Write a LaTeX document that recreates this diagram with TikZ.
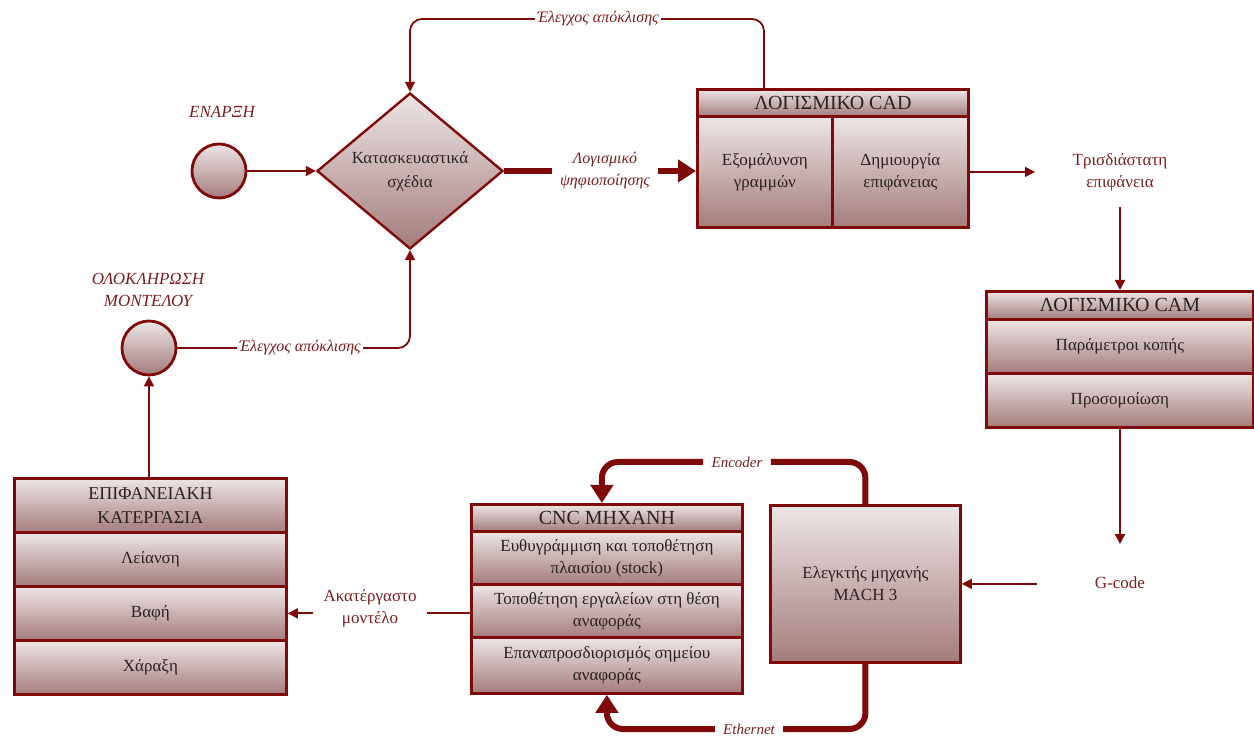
\documentclass[tikz,border=0pt]{standalone}
\usepackage{fontspec}
\setmainfont{Liberation Serif}
\usetikzlibrary{shapes.geometric,arrows.meta}
\definecolor{dred}{HTML}{7F0A0A}
\definecolor{gtop}{HTML}{EDE6E6}
\definecolor{gbot}{HTML}{A47C7C}
\definecolor{ltxt}{HTML}{7A1E1E}
\definecolor{btxt}{HTML}{2A2222}
\begin{document}
\begin{tikzpicture}[x=0.5pt,y=-0.5pt,
  cell/.style={draw=dred, line width=1.4pt, top color=gtop, bottom color=gbot,
    anchor=north west, inner sep=0pt, align=center, text=btxt,
    font=\fontsize{8.5}{11}\selectfont},
  hdr/.style={font=\fontsize{10}{12}\selectfont},
  circ/.style={circle, draw=dred, line width=1.4pt, top color=gtop, bottom color=gbot,
    minimum size=27pt, inner sep=0pt},
  ilbl/.style={text=ltxt, font=\fontsize{8}{11}\itshape, align=center, inner sep=2pt},
  tlbl/.style={text=ltxt, font=\fontsize{8.5}{11}\selectfont, align=center, inner sep=2pt},
  thinl/.style={draw=dred, line width=0.9pt},
  thina/.style={thinl, -{Triangle[length=5pt,width=5pt]}},
  thickl/.style={draw=dred, line width=3pt},
  thicka/.style={thickl, -{Triangle[length=9pt,width=11pt]}}
]
\useasboundingbox (0,0) rectangle (1254,737);

% start / end circles
\node[circ] (start) at (219,171) {};
\node[ilbl, font=\fontsize{8.5}{11}\itshape] (startl) at (222,112) {ΕΝΑΡΞΗ};
\node[circ] (endc) at (149,348) {};
\node[ilbl, font=\fontsize{8.5}{11}\itshape] (endl) at (148,290) {ΟΛΟΚΛΗΡΩΣΗ\\ΜΟΝΤΕΛΟΥ};

% diamond
\node[diamond, draw=dred, line width=1.2pt, top color=gtop, bottom color=gbot,
  minimum width=93pt, minimum height=78pt, inner sep=0pt] (dia) at (410,171) {};
\node[text=btxt, font=\fontsize{8.5}{12}\selectfont, align=center] (diat) at (dia.center) {Κατασκευαστικά\\σχέδια};

% CAD
\node[cell, hdr, minimum width=135.5pt, minimum height=13.5pt] (cadh) at (696,88) {ΛΟΓΙΣΜΙΚΟ CAD};
\node[cell, minimum width=67.5pt, minimum height=55.5pt] (cad1) at (696,115) {Εξομάλυνση\\γραμμών};
\node[cell, minimum width=68pt, minimum height=55.5pt] (cad2) at (831,115) {Δημιουργία\\επιφάνειας};

% CAM
\node[cell, hdr, minimum width=133.5pt, minimum height=14pt] (camh) at (985,290) {ΛΟΓΙΣΜΙΚΟ CAM};
\node[cell, minimum width=133.5pt, minimum height=27pt] (cam1) at (985,318) {Παράμετροι κοπής};
\node[cell, minimum width=133.5pt, minimum height=27pt] (cam2) at (985,372) {Προσομοίωση};

% CNC
\node[cell, hdr, minimum width=135.5pt, minimum height=13.5pt] (cnch) at (470,503) {CNC ΜΗΧΑΝΗ};
\node[cell, minimum width=135.5pt, minimum height=26.5pt] (cnc1) at (470,530) {Ευθυγράμμιση και τοποθέτηση\\πλαισίου (stock)};
\node[cell, minimum width=135.5pt, minimum height=26.5pt] (cnc2) at (470,583) {Τοποθέτηση εργαλείων στη θέση\\αναφοράς};
\node[cell, minimum width=135.5pt, minimum height=28pt] (cnc3) at (470,636) {Επαναπροσδιορισμός σημείου\\αναφοράς};

% Surface finishing
\node[cell, minimum width=136pt, minimum height=27pt, font=\fontsize{9}{12}\selectfont] (eph) at (13,477) {ΕΠΙΦΑΝΕΙΑΚΗ\\ΚΑΤΕΡΓΑΣΙΑ};
\node[cell, minimum width=136pt, minimum height=27pt] (ep1) at (13,531) {Λείανση};
\node[cell, minimum width=136pt, minimum height=27pt] (ep2) at (13,585) {Βαφή};
\node[cell, minimum width=136pt, minimum height=27pt] (ep3) at (13,639) {Χάραξη};

% MACH
\node[cell, minimum width=95pt, minimum height=78.5pt] (mach) at (769,504) {Ελεγκτής μηχανής\\MACH 3};

% labels
\node[ilbl, fill=white, inner sep=1pt] (ea1) at (598,19) {Έλεγχος απόκλισης};
\node[ilbl, fill=white, inner sep=1pt] (ea2) at (300,348) {Έλεγχος απόκλισης};
\node[ilbl, inner sep=4pt] (lgs) at (605,171) {Λογισμικό\\ψηφιοποίησης};
\node[tlbl] (tris) at (1120,172) {Τρισδιάστατη\\επιφάνεια};
\node[tlbl] (gcode) at (1120,582.5) {G-code};
\node[tlbl, inner sep=5pt] (akat) at (370,608) {Ακατέργαστο\\μοντέλο};
\node[ilbl, font=\fontsize{7.5}{10}\itshape, inner sep=4pt] (enc) at (737,462) {Encoder};
\node[ilbl, font=\fontsize{7.5}{10}\itshape, inner sep=4pt] (eth) at (749,729) {Ethernet};
\coordinate (trisin) at (1035,171);
\coordinate (cadtop) at (764,88);

% connectors
\draw[thina] (start.east) -- (dia.west);
\draw[thickl] (dia.east) -- (lgs.west);
\draw[thicka] (lgs.east) -- (lgs.east -| cad1.west);
\draw[thinl, rounded corners=6pt] (cadtop) |- (ea1.east);
\draw[thina, rounded corners=6pt] (ea1.west) -| (dia.north);
\draw[thina] (cad2.east) -- (cad2.east -| trisin);
\draw[thina, shorten <=6pt] (tris.south) -- (camh.north -| tris.south);
\draw[thina, shorten >=14pt] (cam2.south -| gcode.north) -- (gcode.north);
\draw[thina, shorten <=27pt] (mach.east -| gcode.west) -- (mach.east);
\draw[thickl, rounded corners=8pt] (mach.north) |- (enc.east);
\draw[thicka, rounded corners=8pt] (enc.west) -| ([xshift=-2.5pt]cnch.north);
\draw[thickl, rounded corners=8pt] (mach.south) |- (eth.east);
\draw[thicka, rounded corners=8pt] (eth.west) -| (cnc3.south);
\draw[thinl] (cnc2.west |- ep2.east) -- (akat.east |- ep2.east);
\draw[thina] (akat.west |- ep2.east) -- (ep2.east);
\draw[thina] (eph.north -| endc.south) -- (endc.south);
\draw[thinl] (endc.east) -- (ea2.west);
\draw[thina, rounded corners=6pt] (ea2.east) -| (dia.south);
\end{tikzpicture}
\end{document}
